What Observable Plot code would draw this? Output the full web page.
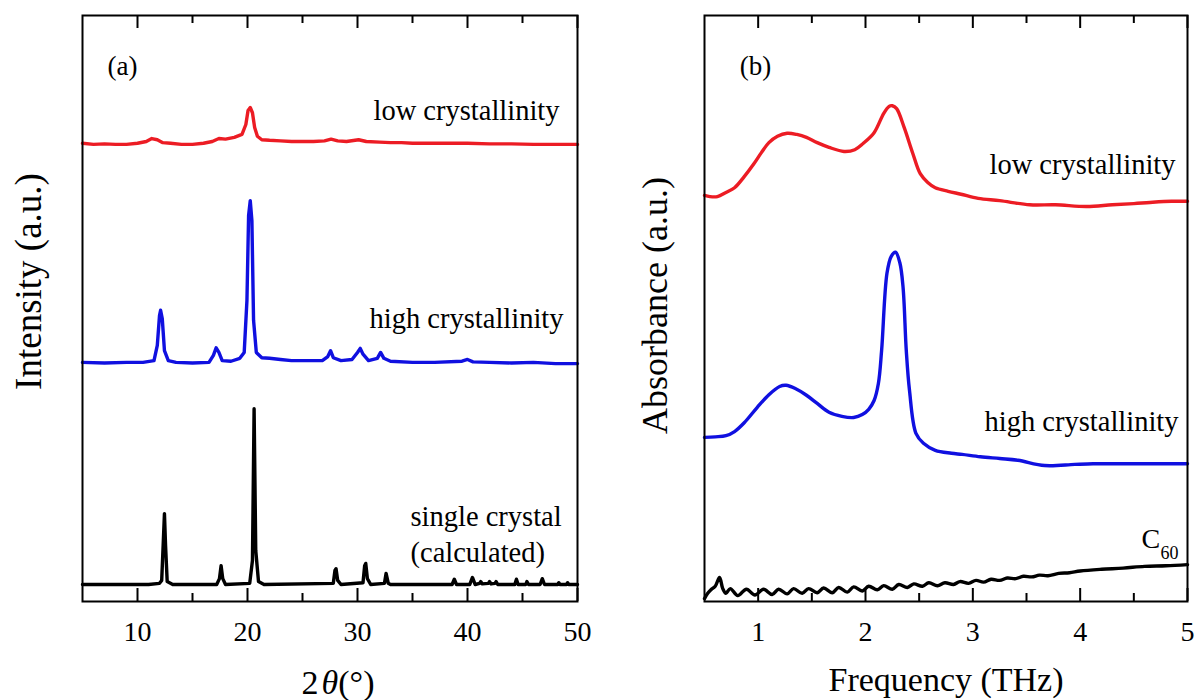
<!DOCTYPE html>
<html>
<head>
<meta charset="utf-8">
<script src="https://cdn.jsdelivr.net/npm/d3@7"></script>
<script src="https://cdn.jsdelivr.net/npm/@observablehq/plot@0.6"></script>
<style>
  body { margin: 0; background: #fff; }
  #wrap { display: flex; width: 1198px; height: 700px; }
  #wrap svg { display: block; }
</style>
</head>
<body>
<div id="wrap"></div>
<script>
// ---------- Panel (a): XRD patterns (intensity in a.u., offset traces) ----------
const xrdLowAngle = [5,6,7,8,9,10,10.8,11.3,11.8,12.3,13,14,15,16,16.8,17.4,18,18.8,19.5,19.85,20.05,20.25,20.45,20.65,20.9,21.3,22,23,24,25,26,27,27.6,28.2,29,30.1,30.8,32,33,34,35,36,38,40,42,44,46,48,50];
const xrdLowIntensity = [78.2,78.0,78.1,78.0,78.0,78.2,78.5,79.0,78.8,78.3,78.2,78.0,78.0,78.2,78.5,79.0,78.9,79.2,79.7,81.4,83.8,84.3,83.4,80.9,79.4,78.8,78.7,78.6,78.5,78.5,78.5,78.6,78.9,78.6,78.5,78.8,78.5,78.4,78.3,78.3,78.2,78.2,78.2,78.2,78.1,78.1,78.0,78.0,78.0];

const xrdHighAngle = [5,7,9,10.5,11.5,11.8,12.0,12.1,12.25,12.45,12.8,13.5,15,16.5,16.9,17.15,17.4,17.7,18.5,19.3,19.7,19.95,20.1,20.25,20.4,20.55,20.8,21.3,22,23,24,25.5,26.8,27.3,27.55,27.8,28.5,29.5,30.0,30.25,30.5,31,31.8,32.1,32.4,33,35,37,39.5,40,40.5,42,44,46,48,50];
const xrdHighIntensity = [40.8,40.7,40.8,40.8,41.1,43.7,48.8,49.7,48.3,42.8,41.1,40.8,40.7,40.8,42.0,43.3,42.5,41.1,41.0,41.5,42.5,51.4,65.9,68.4,65.0,48.0,42.5,41.6,41.5,41.3,41.1,41.1,41.1,41.8,42.8,41.6,41.1,41.3,42.5,43.2,42.2,41.1,41.5,42.5,41.5,41.0,40.8,40.8,41.0,41.3,40.9,40.8,40.7,40.8,40.6,40.6];

const xrdCalcAngle = [5,11,12.0,12.2,12.35,12.45,12.55,12.7,13.2,17.2,17.45,17.6,17.75,18,20.2,20.45,20.6,20.75,21.0,21.5,27.8,27.95,28.05,28.2,28.5,30.5,30.65,30.75,30.9,31.2,32.45,32.6,32.8,33,38.6,38.8,39,40.2,40.45,40.7,41.1,41.2,41.35,41.9,42.0,42.15,42.5,42.6,42.75,44.3,44.45,44.6,45.3,45.4,45.55,46.6,46.8,47,48.2,48.3,48.4,49.0,49.1,49.2,50];
const xrdCalcIntensity = [2.9,2.9,3.1,3.6,10.4,15.0,9.6,3.4,2.9,2.9,3.9,6.1,3.9,2.9,3.1,7.0,32.9,8.7,3.4,2.9,3.1,5.3,5.6,3.6,2.9,3.2,6.1,6.5,3.9,2.9,3.1,4.8,3.1,2.9,2.9,3.8,2.9,2.9,4.1,2.9,3.1,3.4,3.0,3.1,3.4,3.0,3.1,3.4,2.9,2.9,3.8,2.9,2.9,3.4,2.9,2.9,3.9,2.9,2.9,3.2,2.9,2.9,3.2,2.9,2.9];

const xrdMajorTicks = [10,20,30,40,50];
const xrdMinorTicks = [15,25,35,45];

// ---------- Panel (b): THz absorbance (a.u., offset traces) ----------
const thzLowFreq = [0.5,0.55,0.62,0.7,0.78,0.87,0.96,1.03,1.1,1.18,1.27,1.36,1.45,1.55,1.66,1.8,1.9,1.98,2.08,2.17,2.22,2.25,2.29,2.36,2.44,2.51,2.58,2.65,2.77,2.89,3.05,3.25,3.53,3.77,4.06,4.3,4.5,4.65,4.85,5.0];
const thzLowAbs = [69.3,69.1,69.1,69.8,70.6,72.5,74.7,76.6,78.3,79.4,79.9,79.7,79.2,78.3,77.5,76.8,77.1,78.2,80.0,83.3,84.5,84.6,84.1,80.9,76.5,73.0,71.5,70.6,70.0,69.5,68.8,68.4,67.7,67.7,67.4,67.7,67.9,68.1,68.3,68.3];

const thzHighFreq = [0.5,0.6,0.7,0.78,0.87,0.99,1.1,1.2,1.26,1.35,1.45,1.55,1.66,1.78,1.89,1.97,2.03,2.08,2.12,2.15,2.2,2.24,2.28,2.32,2.35,2.38,2.41,2.47,2.54,2.65,2.8,2.9,3.07,3.25,3.42,3.67,3.95,4.12,4.3,4.48,4.7,5.0];
const thzHighAbs = [28.0,28.1,28.3,29.0,30.5,33.1,35.3,36.7,36.9,36.3,35.2,33.8,32.3,31.6,31.4,31.9,32.8,34.3,37.2,42.8,56.0,58.9,59.6,57.8,53.6,42.8,36.0,28.7,27.0,25.8,25.3,25.1,24.7,24.4,24.1,23.2,23.4,23.5,23.5,23.5,23.5,23.5];

const thzC60Freq = [0.5,0.53,0.56,0.6,0.64,0.67,0.7,0.74,0.81,0.89,0.97,1.05,1.13,1.19,1.27,1.33,1.41,1.47,1.55,1.61,1.69,1.75,1.83,1.89,1.97,2.03,2.11,2.17,2.25,2.31,2.39,2.45,2.53,2.59,2.67,2.74,2.82,2.88,2.96,3.03,3.1,3.17,3.25,3.32,3.4,3.47,3.55,3.62,3.7,3.8,3.9,4.0,4.2,4.4,4.6,4.8,5.0];
const thzC60Abs = [0.5,1.4,2.0,2.6,4.1,2.2,1.4,2.2,1.0,2.1,1.1,2.1,1.2,2.1,1.3,2.2,1.4,2.2,1.5,2.3,1.5,2.4,1.6,2.5,1.8,2.6,2.0,2.7,2.1,2.9,2.4,3.0,2.6,3.2,2.7,3.2,2.9,3.4,3.1,3.6,3.3,3.8,3.6,4.0,3.9,4.3,4.2,4.5,4.4,4.8,4.9,5.2,5.5,5.7,6.0,6.1,6.3];

const thzMajorTicks = [1,2,3,4,5];
const thzMinorTicks = [1.5,2.5,3.5,4.5];

// ---------- helpers ----------
const zip = (xs, ys) => xs.map((x, i) => ({x, y: ys[i]}));
const RED = "#ec1c24";
const BLUE = "#1010e0";
const BLACK = "#000000";
const FONT = "'Liberation Serif', 'Times New Roman', serif";
const FRAME_H = 586;
const LW = 3.4;

function ticks(major, minor) {
  return [
    Plot.tickX(major, {x: d => d, insetTop: FRAME_H - 13, stroke: BLACK, strokeWidth: 2}),
    Plot.tickX(major, {x: d => d, insetBottom: FRAME_H - 13, stroke: BLACK, strokeWidth: 2}),
    Plot.tickX(minor, {x: d => d, insetTop: FRAME_H - 8, stroke: BLACK, strokeWidth: 2}),
    Plot.tickX(minor, {x: d => d, insetBottom: FRAME_H - 8, stroke: BLACK, strokeWidth: 2}),
    Plot.text(major, {x: d => d, text: d => String(d), frameAnchor: "bottom", textAnchor: "middle", lineAnchor: "middle", dy: 31, fontSize: 28, fill: BLACK})
  ];
}
const label = (t, o) => Plot.text([t], {text: d => d, fill: BLACK, lineAnchor: "middle", ...o});

const plotA = Plot.plot({
  width: 599, height: 700,
  marginLeft: 82, marginRight: 22, marginTop: 15, marginBottom: 99,
  x: {domain: [5, 50], axis: null},
  y: {domain: [0, 100], axis: null},
  style: {fontFamily: FONT, background: "white", color: "black", overflow: "visible"},
  marks: [
    Plot.line(zip(xrdLowAngle, xrdLowIntensity), {x: "x", y: "y", stroke: RED, strokeWidth: LW}),
    Plot.line(zip(xrdHighAngle, xrdHighIntensity), {x: "x", y: "y", stroke: BLUE, strokeWidth: LW}),
    Plot.line(zip(xrdCalcAngle, xrdCalcIntensity), {x: "x", y: "y", stroke: BLACK, strokeWidth: LW}),
    Plot.frame({stroke: BLACK, strokeWidth: 2}),
    ...ticks(xrdMajorTicks, xrdMinorTicks),
    label("2θ(°)", {frameAnchor: "bottom", textAnchor: "middle", dx: 8, dy: 82, fontSize: 34}),
    label("Intensity (a.u.)", {frameAnchor: "left", textAnchor: "middle", rotate: -90, dx: -53, dy: -27, fontSize: 37}),
    label("(a)", {frameAnchor: "top-left", textAnchor: "middle", dx: 40, dy: 51, fontSize: 27}),
    label("low crystallinity", {frameAnchor: "top-right", textAnchor: "end", dx: -18, dy: 95, fontSize: 28.5}),
    label("high crystallinity", {frameAnchor: "top-right", textAnchor: "end", dx: -14, dy: 303, fontSize: 28.5}),
    label("single crystal", {frameAnchor: "top-left", textAnchor: "start", dx: 328, dy: 501, fontSize: 28.5}),
    label("(calculated)", {frameAnchor: "top-left", textAnchor: "start", dx: 328, dy: 537, fontSize: 28.5})
  ]
});

const plotB = Plot.plot({
  width: 599, height: 700,
  marginLeft: 105, marginRight: 11, marginTop: 15, marginBottom: 99,
  x: {domain: [0.5, 5], axis: null},
  y: {domain: [0, 100], axis: null},
  style: {fontFamily: FONT, background: "white", color: "black", overflow: "visible"},
  marks: [
    Plot.line(zip(thzLowFreq, thzLowAbs), {x: "x", y: "y", stroke: RED, strokeWidth: LW, curve: "catmull-rom"}),
    Plot.line(zip(thzHighFreq, thzHighAbs), {x: "x", y: "y", stroke: BLUE, strokeWidth: LW, curve: "catmull-rom"}),
    Plot.line(zip(thzC60Freq, thzC60Abs), {x: "x", y: "y", stroke: BLACK, strokeWidth: LW, curve: "catmull-rom"}),
    Plot.frame({stroke: BLACK, strokeWidth: 2}),
    ...ticks(thzMajorTicks, thzMinorTicks),
    label("Frequency (THz)", {frameAnchor: "bottom", textAnchor: "middle", dx: 0, dy: 79, fontSize: 34}),
    label("Absorbance (a.u.)", {frameAnchor: "left", textAnchor: "middle", rotate: -90, dx: -49, dy: -3, fontSize: 36}),
    label("(b)", {frameAnchor: "top-left", textAnchor: "middle", dx: 51, dy: 51, fontSize: 27}),
    label("low crystallinity", {frameAnchor: "top-right", textAnchor: "end", dx: -12, dy: 149, fontSize: 28.5}),
    label("high crystallinity", {frameAnchor: "top-right", textAnchor: "end", dx: -9, dy: 406, fontSize: 28.5}),
    label("C", {frameAnchor: "top-right", textAnchor: "start", dx: -46, dy: 524, fontSize: 28}),
    label("60", {frameAnchor: "top-right", textAnchor: "start", dx: -27, dy: 538, fontSize: 18})
  ]
});

// italic theta in the x-axis title
for (const t of plotA.querySelectorAll("text")) {
  if (t.textContent === "2θ(°)") {
    const ns = "http://www.w3.org/2000/svg";
    while (t.firstChild) t.removeChild(t.firstChild);
    const parts = [["2", false], ["θ", true], ["(°)", false]];
    for (const [s, it] of parts) {
      const sp = document.createElementNS(ns, "tspan");
      sp.textContent = s;
      if (it) { sp.setAttribute("font-style", "italic"); sp.setAttribute("dx", "3"); }
      t.appendChild(sp);
    }
  }
}

const wrap = document.getElementById("wrap");
wrap.appendChild(plotA);
wrap.appendChild(plotB);
</script>
</body>
</html>
